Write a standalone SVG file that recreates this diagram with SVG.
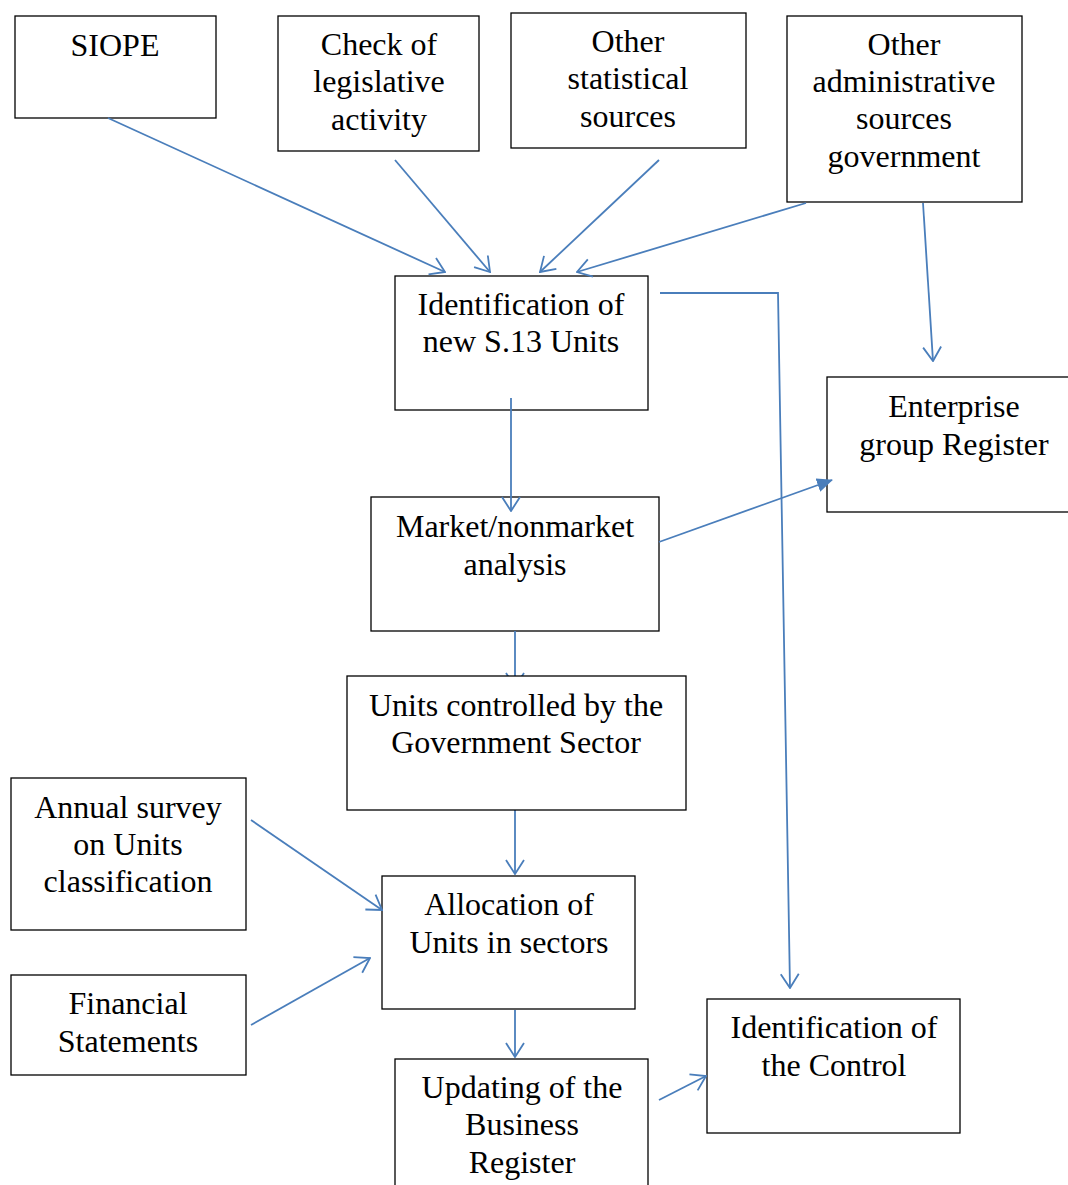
<svg xmlns="http://www.w3.org/2000/svg" width="1068" height="1185" viewBox="0 0 1068 1185">
<style>
.box{fill:#fff;stroke:#000;stroke-width:1.3}
.t{font-family:"Liberation Serif","Times New Roman",serif;font-size:32px;fill:#000;text-anchor:middle}
.c{fill:none;stroke:#4a7ebb;stroke-width:1.8}
</style>
<defs>
<marker id="a" markerUnits="userSpaceOnUse" viewBox="0 0 16 20" markerWidth="16" markerHeight="20" refX="15" refY="10" orient="auto">
<path d="M1,1 L15,10 L1,19" fill="none" stroke="#4a7ebb" stroke-width="1.8"/>
</marker>
<marker id="f" markerUnits="userSpaceOnUse" viewBox="0 0 16 14" markerWidth="16" markerHeight="14" refX="15" refY="7" orient="auto">
<path d="M0,0 L16,7 L0,14 Z" fill="#4a7ebb"/>
</marker>
</defs>
<rect width="1068" height="1185" fill="#fff"/>
<g id="siope"><rect class="box" x="15" y="16" width="201" height="102"/><text class="t" x="115" y="56">SIOPE</text></g>
<g id="check"><rect class="box" x="278" y="16" width="201" height="135"/><text class="t" x="379" y="55">Check of</text><text class="t" x="379" y="92">legislative</text><text class="t" x="379" y="130">activity</text></g>
<g id="otherstat"><rect class="box" x="511" y="13" width="235" height="135"/><text class="t" x="628" y="52">Other</text><text class="t" x="628" y="89">statistical</text><text class="t" x="628" y="127">sources</text></g>
<g id="otheradmin"><rect class="box" x="787" y="16" width="235" height="186"/><text class="t" x="904" y="55">Other</text><text class="t" x="904" y="92">administrative</text><text class="t" x="904" y="129">sources</text><text class="t" x="904" y="167">government</text></g>
<g id="ident"><rect class="box" x="395" y="276" width="253" height="134"/><text class="t" x="521" y="315">Identification of</text><text class="t" x="521" y="352">new S.13 Units</text></g>
<g id="enterprise"><rect class="box" x="827" y="377" width="245" height="135"/><text class="t" x="954" y="417">Enterprise</text><text class="t" x="954" y="455">group Register</text></g>
<g id="market"><rect class="box" x="371" y="497" width="288" height="134"/><text class="t" x="515" y="537">Market/nonmarket</text><text class="t" x="515" y="575">analysis</text></g>
<g id="annual"><rect class="box" x="11" y="778" width="235" height="152"/><text class="t" x="128" y="818">Annual survey</text><text class="t" x="128" y="855">on Units</text><text class="t" x="128" y="892">classification</text></g>
<g id="alloc"><rect class="box" x="382" y="876" width="253" height="133"/><text class="t" x="509" y="915">Allocation of</text><text class="t" x="509" y="953">Units in sectors</text></g>
<g id="financial"><rect class="box" x="11" y="975" width="235" height="100"/><text class="t" x="128" y="1014">Financial</text><text class="t" x="128" y="1052">Statements</text></g>
<g id="control"><rect class="box" x="707" y="999" width="253" height="134"/><text class="t" x="834" y="1038">Identification of</text><text class="t" x="834" y="1076">the Control</text></g>
<g id="updating"><rect class="box" x="395" y="1059" width="253" height="140"/><text class="t" x="522" y="1098">Updating of the</text><text class="t" x="522" y="1135">Business</text><text class="t" x="522" y="1173">Register</text></g>
<g id="connectors">
<line class="c" x1="108" y1="118" x2="445" y2="272" marker-end="url(#a)"/>
<line class="c" x1="395" y1="160" x2="490" y2="272" marker-end="url(#a)"/>
<line class="c" x1="659" y1="160" x2="540" y2="272" marker-end="url(#a)"/>
<line class="c" x1="806" y1="203" x2="577" y2="272" marker-end="url(#a)"/>
<line class="c" x1="923" y1="203" x2="933" y2="361" marker-end="url(#a)"/>
<polyline class="c" points="660,293 778,293 790,988" marker-end="url(#a)"/>
<line class="c" x1="511" y1="398" x2="511" y2="511" marker-end="url(#a)"/>
<line class="c" x1="659" y1="542" x2="832" y2="480" marker-end="url(#f)"/>
<line class="c" x1="515" y1="631" x2="515" y2="687" marker-end="url(#a)"/>
<line class="c" x1="515" y1="800" x2="515" y2="874" marker-end="url(#a)"/>
<line class="c" x1="251" y1="820" x2="382" y2="910" marker-end="url(#a)"/>
<line class="c" x1="251" y1="1025" x2="370" y2="958" marker-end="url(#a)"/>
<line class="c" x1="515" y1="1010" x2="515" y2="1057" marker-end="url(#a)"/>
<line class="c" x1="659" y1="1100" x2="706" y2="1076" marker-end="url(#a)"/>
</g>
<g id="units"><rect class="box" x="347" y="676" width="339" height="134"/><text class="t" x="516" y="716">Units controlled by the</text><text class="t" x="516" y="753">Government Sector</text></g>
</svg>
